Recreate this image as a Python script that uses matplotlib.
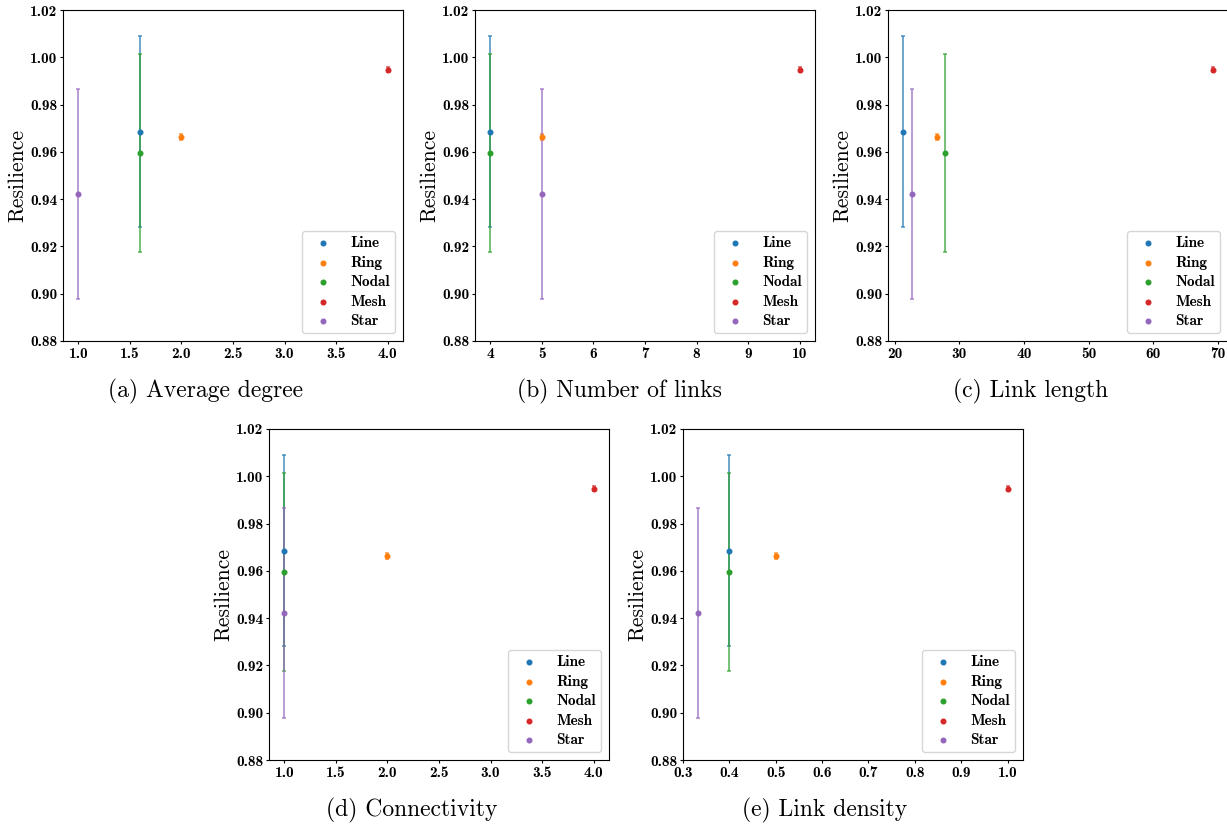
import numpy as np
import matplotlib
matplotlib.use("Agg")
import matplotlib.pyplot as plt

# topology results (mean resilience and spread)
topologies = ['Line', 'Ring', 'Nodal', 'Mesh', 'Star']
colors = ['tab:blue', 'tab:orange', 'tab:green', 'tab:red', 'tab:purple']
resilience = [0.9686, 0.9662, 0.9595, 0.9948, 0.9422]
resilience_err = [0.0403, 0.0012, 0.0420, 0.0009, 0.0445]

# network metrics per topology (same order as above)
avg_degree = [1.6, 2.0, 1.6, 4.0, 1.0]
num_links = [4, 5, 4, 10, 5]
link_length = [21.35, 26.56, 27.85, 69.2, 22.7]
connectivity = [1, 2, 1, 4, 1]
link_density = [0.4, 0.5, 0.4, 1.0, 1 / 3]

metrics = [avg_degree, num_links, link_length, connectivity, link_density]
captions = ['(a) Average degree', '(b) Number of links', '(c) Link length',
            '(d) Connectivity', '(e) Link density']

plt.rcParams['font.family'] = 'cmb10'
plt.rcParams['font.size'] = 11
plt.rcParams['axes.linewidth'] = 0.8
plt.rcParams['xtick.major.size'] = 2.5
plt.rcParams['ytick.major.size'] = 2.5
plt.rcParams['xtick.major.pad'] = 1.5
plt.rcParams['ytick.major.pad'] = 1.5

W, H = 1227, 827
fig = plt.figure(figsize=(W / 100, H / 100), dpi=100)

# axes boxes in pixels: left, top
boxes = [(63, 10), (475, 10), (888, 10), (269, 429), (683, 429)]
ax_w, ax_h = 340, 331
caption_pos = [(206, 391), (619, 391), (1031, 391), (412, 810), (825, 810)]

for i, xs in enumerate(metrics):
    left, top = boxes[i]
    ax = fig.add_axes([left / W, (H - top - ax_h) / H, ax_w / W, ax_h / H])
    for j, name in enumerate(topologies):
        ax.errorbar(xs[j], resilience[j], yerr=resilience_err[j], fmt='none',
                    ecolor=colors[j], elinewidth=1.3, capsize=1.5, capthick=1.2,
                    alpha=0.7)
        ax.scatter(xs[j], resilience[j], s=11, color=colors[j], label=name,
                   zorder=3)
    ax.set_ylim(0.88, 1.02)
    ax.set_yticks(np.arange(0.88, 1.021, 0.02))
    ax.set_ylabel('Resilience', family='cmr10', fontsize=15.5, labelpad=2)
    ax.legend(loc='lower right', fontsize=11, labelspacing=0.36,
              borderpad=0.35)
    if i == 1:
        ax.set_xticks(range(4, 11))
    if i == 4:
        ax.set_xticks(np.arange(0.3, 1.01, 0.1))
    cx, cy = caption_pos[i]
    fig.text(cx / W, (H - cy) / H, captions[i], family='cmr10', fontsize=17,
             ha='center', va='center')

fig.savefig('out.png', dpi=100)
